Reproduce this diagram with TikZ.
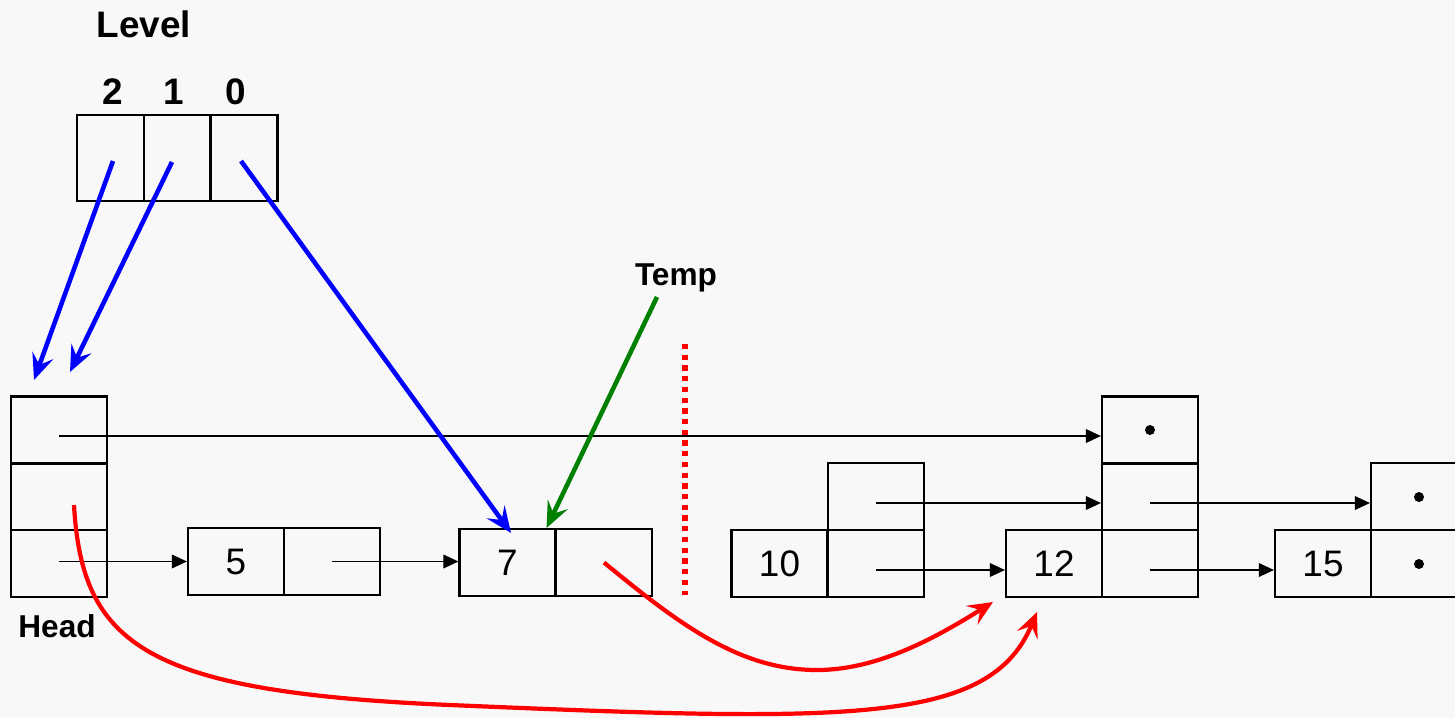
\documentclass[tikz,border=0pt]{standalone}
\usepackage{fontspec}
\setmainfont{Liberation Sans}
\usetikzlibrary{arrows.meta}
\definecolor{bg}{HTML}{F8F8F8}
\definecolor{dgreen}{HTML}{008000}
\tikzset{
  cell/.style={draw, line width=1.2pt, minimum width=1.92cm, minimum height=1.34cm, inner sep=0pt, font=\fontsize{21}{25}\selectfont},
  lcell/.style={draw, line width=1.2pt, minimum width=1.34cm, minimum height=1.72cm, inner sep=0pt},
  ptr/.style={line width=1pt, -{Triangle[length=0.3cm,width=0.27cm]}},
  bluearr/.style={blue, line width=2.6pt, -{Stealth[length=0.52cm,width=0.44cm,inset=0.2cm]}},
  greenarr/.style={dgreen, line width=2.6pt, -{Stealth[length=0.52cm,width=0.44cm,inset=0.2cm]}},
  redarr/.style={red, line width=2.4pt, -{Stealth[length=0.5cm,width=0.44cm,inset=0.2cm]}},
  bigbold/.style={font=\fontsize{21}{25}\selectfont\bfseries, inner sep=0pt},
  smallbold/.style={font=\fontsize{18}{22}\selectfont\bfseries, inner sep=0pt},
  dotc/.style={circle, fill=black, inner sep=0pt, minimum size=0.2cm}
}
\begin{document}
\begin{tikzpicture}[x=0.02cm,y=-0.02cm]
\fill[bg] (0,0) rectangle (1455,718);
\useasboundingbox (0,0) rectangle (1455,718);

% labels
\node[bigbold] (level) at (144,24) {Level};
\node[bigbold] (l2t) at (113,92) {2};
\node[bigbold] (l1t) at (174,92) {1};
\node[bigbold] (l0t) at (236,92) {0};
\node[smallbold] (head) at (57,626) {Head};
\node[smallbold] (temp) at (676,278) {Temp};

% level array
\node[lcell] (L2) at (110.5,158) {};
\node[lcell] (L1) at (177.5,158) {};
\node[lcell] (L0) at (244,158) {};

% head tower
\node[cell] (h2) at (59,430) {};
\node[cell] (h1) at (59,496.5) {};
\node[cell] (h0) at (59,563.5) {};

% node 5
\node[cell] (v5) at (236,561.5) {5};
\node[cell] (p5) at (332,561.5) {};
% node 7
\node[cell] (v7) at (507.5,562.5) {7};
\node[cell] (p7) at (604,562.5) {};
% node 10
\node[cell] (v10) at (779.5,563.5) {10};
\node[cell] (p10a) at (876,496.5) {};
\node[cell] (p10b) at (876,563.5) {};
% node 12
\node[cell] (v12) at (1054,563.5) {12};
\node[cell] (p12c) at (1150,430) {};
\node[cell] (p12a) at (1150,496.5) {};
\node[cell] (p12b) at (1150,563.5) {};
% node 15
\node[cell] (v15) at (1323,563.5) {15};
\node[cell] (p15a) at (1419,496.5) {};
\node[cell] (p15b) at (1419,563.5) {};

\node[dotc] (d1) at (1150,430) {};
\node[dotc] (d2) at (1419,497) {};
\node[dotc] (d3) at (1419,564) {};

% black pointers
\draw[ptr] ([yshift=-0.12cm]h2.center) -- ([yshift=-0.12cm]p12c.west);
\draw[ptr] (h0.center |- v5.west) -- (v5.west);
\draw[ptr] (p5.center) -- (p5.center -| v7.west);
\draw[ptr] ([yshift=-0.13cm]p10a.center) -- ([yshift=-0.13cm]p12a.west);
\draw[ptr] ([yshift=-0.13cm]p10b.center) -- ([yshift=-0.13cm]v12.west);
\draw[ptr] ([yshift=-0.13cm]p12a.center) -- ([yshift=-0.13cm]p15a.west);
\draw[ptr] ([yshift=-0.13cm]p12b.center) -- ([yshift=-0.13cm]v15.west);

% blue arrows
\coordinate (b2s) at (113,161);
\coordinate (b1s) at (172,162);
\coordinate (b0s) at (241,161);
\coordinate (b2e) at (34,380);
\coordinate (b1e) at (70,372);
\draw[bluearr] (b2s) -- (b2e);
\draw[bluearr] (b1s) -- (b1e);
\draw[bluearr] (b0s) -- ([xshift=0.07cm,yshift=-0.1cm]v7.north);

% green
\coordinate (gs) at (657,297);
\draw[greenarr] (gs) -- ([xshift=-0.2cm]v7.north east);

% red dotted
\coordinate (rd1) at (685,344);
\coordinate (rd2) at (685,595);
\draw[red, line width=3.1pt, dash pattern=on 3pt off 3.1pt] (rd1) -- (rd2);

% red curves
\coordinate (r1m) at (817,670);
\coordinate (r1e) at (993,602);
\draw[redarr] (p7.center) .. controls (680,625) and (740,670) .. (r1m) .. controls (880,670) and (940,635) .. (r1e);
\coordinate (r2s) at (74,505);
\coordinate (r2m) at (450,705);
\coordinate (r2e) at (1037,612);
\draw[redarr] (r2s) .. controls (82,645) and (145,692) .. (r2m) .. controls (850,722) and (990,725) .. (r2e);
\end{tikzpicture}
\end{document}
